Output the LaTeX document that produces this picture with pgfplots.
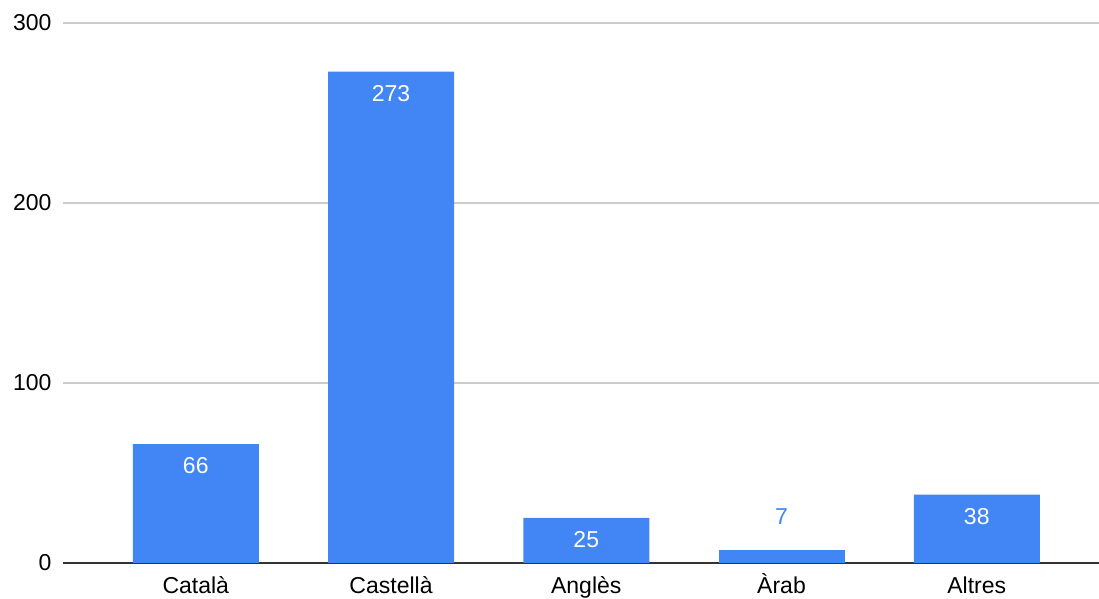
\documentclass[border=0pt]{standalone}
\usepackage{pgfplots}
\pgfplotsset{compat=1.18}
\usepackage{fontspec}
\setmainfont{Liberation Sans}
\definecolor{barblue}{HTML}{4285F4}
\definecolor{gridgray}{HTML}{CCCCCC}
\definecolor{axisdark}{HTML}{333333}
\begin{document}
\begin{tikzpicture}
\begin{axis}[
  name=main,
  scale only axis,
  width=1036pt, height=540pt,
  xmin=-0.68, xmax=4.626,
  ymin=0, ymax=300,
  ytick={0,100,200,300},
  xtick={0,1,2,3,4},
  xticklabels={Català,Castellà,Anglès,Àrab,Altres},
  axis x line*=bottom,
  axis y line*=left,
  y axis line style={draw=none},
  x axis line style={axisdark, line width=1.5pt, -},
  ymajorgrids,
  grid style={gridgray, line width=1.3pt},
  major tick length=0pt,
  tick style={draw=none},
  ticklabel style={font=\fontsize{23}{26}\selectfont, text=black},
  yticklabel style={xshift=-8pt},
  xticklabel style={anchor=base, yshift=-31pt},
  /pgf/number format/assume math mode=true,
  ybar, bar width=126pt, bar shift=0pt,
  clip=false,
]
% bars whose value sits inside, near the top
\addplot[fill=barblue, draw=none,
  nodes near coords,
  every node near coord/.append style={anchor=north, yshift=-10pt, text=white, font=\fontsize{23}{26}\selectfont},
] coordinates {(0,66) (1,273) (2,25) (4,38)};
% short bar with its value above it
\addplot[fill=barblue, draw=none,
  nodes near coords,
  every node near coord/.append style={anchor=south, yshift=22pt, text=barblue, font=\fontsize{23}{26}\selectfont},
] coordinates {(3,7)};
\end{axis}
\pgfresetboundingbox
\path ([shift={(-63pt,-36pt)}]main.south west) rectangle ([shift={(0pt,23pt)}]main.north east);
\end{tikzpicture}
\end{document}
